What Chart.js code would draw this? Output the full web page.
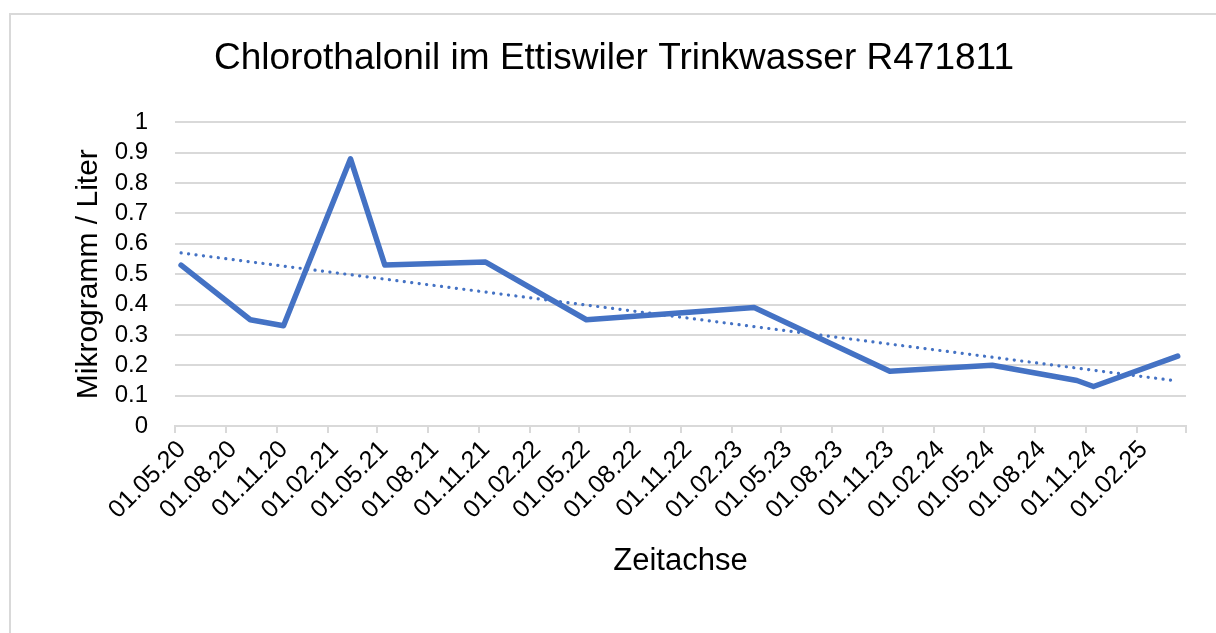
<!DOCTYPE html>
<html lang="de">
<head>
    <meta charset="UTF-8">
    <title>Chlorothalonil Ettiswil</title>
    <script src="https://cdn.jsdelivr.net/npm/chart.js"></script>
    <style>
        html, body {
            margin: 0;
            padding: 0;
            background: #fff;
            overflow: hidden;
        }
        #frame {
            position: absolute;
            left: 9px;
            top: 13px;
            width: 1400px;
            height: 900px;
            border-left: 2px solid #d9d9d9;
            border-top: 2px solid #d9d9d9;
        }
        #chartContainer {
            position: absolute;
            left: 0;
            top: 0;
            width: 1216px;
            height: 633px;
        }
    </style>
</head>
<body>
    <div id="frame"></div>
    <div id="chartContainer">
        <canvas id="chlorChart"></canvas>
    </div>

    <script>
        // Messdaten (Datum der Probe, Wert in µg/l)
        const sampleDates = ['2020-05-12', '2020-09-14', '2020-11-13', '2021-03-14', '2021-05-15',
            '2021-11-13', '2022-05-14', '2023-03-13', '2023-11-13', '2024-05-16',
            '2024-10-16', '2024-11-15', '2025-04-16'];
        const sampleValues = [0.53, 0.35, 0.33, 0.88, 0.53, 0.54, 0.35, 0.39, 0.18, 0.20, 0.15, 0.13, 0.23];

        // lineare Trendlinie (Anfang / Ende)
        const trendDates = ['2020-05-12', '2025-04-16'];
        const trendValues = [0.57, 0.148];

        // Achsenbeschriftung
        const tickDates = ['2020-05-01', '2020-08-01', '2020-11-01', '2021-02-01', '2021-05-01',
            '2021-08-01', '2021-11-01', '2022-02-01', '2022-05-01', '2022-08-01', '2022-11-01',
            '2023-02-01', '2023-05-01', '2023-08-01', '2023-11-01', '2024-02-01', '2024-05-01',
            '2024-08-01', '2024-11-01', '2025-02-01', '2025-05-01'];
        const tickLabels = ['01.05.20', '01.08.20', '01.11.20', '01.02.21', '01.05.21',
            '01.08.21', '01.11.21', '01.02.22', '01.05.22', '01.08.22', '01.11.22',
            '01.02.23', '01.05.23', '01.08.23', '01.11.23', '01.02.24', '01.05.24',
            '01.08.24', '01.11.24', '01.02.25', ''];
        const yTickLabels = ['0', '0.1', '0.2', '0.3', '0.4', '0.5', '0.6', '0.7', '0.8', '0.9', '1'];

        // Tage seit 01.05.2020
        const start = Date.UTC(2020, 4, 1);
        function toDay(s) {
            const p = s.split('-').map(Number);
            return (Date.UTC(p[0], p[1] - 1, p[2]) - start) / 86400000;
        }
        const tickDays = tickDates.map(toDay);

        const FONT = "'Liberation Sans', Arial, sans-serif";
        const blue = '#4472C4';
        const grid = '#d9d9d9';

        const ctx = document.getElementById('chlorChart').getContext('2d');
        new Chart(ctx, {
            type: 'line',
            data: {
                datasets: [
                    {
                        label: 'Chlorothalonil',
                        data: sampleDates.map((d, i) => ({x: toDay(d), y: sampleValues[i]})),
                        borderColor: blue,
                        borderWidth: 5.5,
                        borderJoinStyle: 'round',
                        borderCapStyle: 'round',
                        pointRadius: 0,
                        fill: false,
                        tension: 0
                    },
                    {
                        label: 'Trend',
                        data: trendDates.map((d, i) => ({x: toDay(d), y: trendValues[i]})),
                        borderColor: blue,
                        borderWidth: 3.2,
                        borderDash: [0.1, 7.4],
                        borderCapStyle: 'round',
                        pointRadius: 0,
                        fill: false
                    }
                ]
            },
            options: {
                responsive: true,
                maintainAspectRatio: false,
                animation: false,
                layout: {
                    padding: {left: 42, right: 30, top: 0, bottom: 49}
                },
                plugins: {
                    legend: {display: false},
                    tooltip: {enabled: false},
                    title: {
                        display: true,
                        text: 'Chlorothalonil im Ettiswiler Trinkwasser R471811',
                        color: '#000',
                        font: {family: FONT, size: 37, weight: 'normal'},
                        padding: {top: 37, bottom: 41}
                    }
                },
                scales: {
                    x: {
                        type: 'linear',
                        min: tickDays[0],
                        max: tickDays[tickDays.length - 1],
                        afterBuildTicks: (scale) => {
                            scale.ticks = tickDays.map(v => ({value: v}));
                        },
                        afterFit: (scale) => {
                            scale.height = 158;
                        },
                        ticks: {
                            autoSkip: false,
                            minRotation: 45,
                            maxRotation: 45,
                            labelOffset: 7,
                            padding: 2,
                            color: '#000',
                            font: {family: FONT, size: 25},
                            callback: (value, index) => tickLabels[index]
                        },
                        grid: {
                            drawOnChartArea: false,
                            drawTicks: true,
                            tickLength: 7,
                            color: grid,
                            lineWidth: 2
                        },
                        border: {display: true, color: grid, width: 2},
                        title: {
                            display: true,
                            text: 'Zeitachse',
                            color: '#000',
                            font: {family: FONT, size: 31}
                        }
                    },
                    y: {
                        min: 0,
                        max: 1,
                        afterFit: (scale) => {
                            scale.width = 133;
                        },
                        ticks: {
                            autoSkip: false,
                            stepSize: 0.1,
                            padding: 27,
                            color: '#000',
                            font: {family: FONT, size: 24},
                            callback: (value) => yTickLabels[Math.round(value * 10)]
                        },
                        grid: {
                            drawTicks: false,
                            color: grid,
                            lineWidth: 2
                        },
                        border: {display: false},
                        title: {
                            display: true,
                            text: 'Mikrogramm / Liter',
                            color: '#000',
                            font: {family: FONT, size: 30},
                            padding: {top: 29, bottom: 4}
                        }
                    }
                }
            }
        });
    </script>
</body>
</html>
